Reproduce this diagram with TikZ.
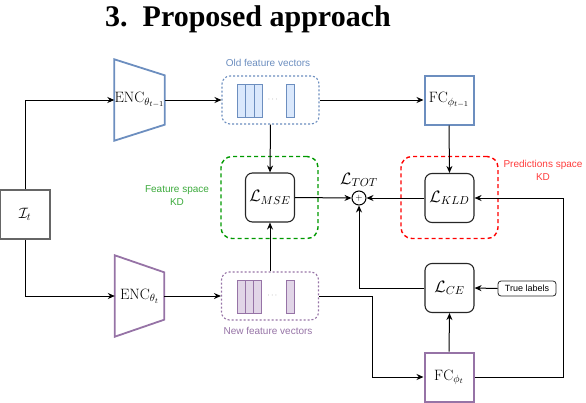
\RequirePackage{fix-cm}
\documentclass[tikz,border=0pt]{standalone}
\usepackage{amsmath}
\usepackage{fontspec}
\setsansfont{Liberation Sans}
\newfontfamily\titlefont{Liberation Serif}
\usetikzlibrary{arrows.meta,calc}

\definecolor{oldline}{HTML}{6C8EBF}
\definecolor{oldfill}{HTML}{DAE8FC}
\definecolor{newline}{HTML}{9673A6}
\definecolor{newfill}{HTML}{E1D5E7}
\definecolor{kdgreen}{RGB}{0,153,0}
\definecolor{kdgreentxt}{RGB}{60,170,60}
\definecolor{kdred}{RGB}{255,0,0}
\definecolor{kdredtxt}{RGB}{255,60,60}

\begin{document}
\begin{tikzpicture}[x=1pt,y=-1pt,
	>={Stealth[length=7pt,width=6pt]},
	arr/.style={->,line width=1pt,draw=black},
	con/.style={line width=1pt,draw=black},
	mathfont/.style={font=\fontsize{15}{17}\selectfont},
	lossfont/.style={font=\fontsize{16.5}{18}\selectfont},
	encbox/.style={mathfont,minimum width=49pt,minimum height=81pt,inner sep=0pt},
	fcbox/.style={draw,mathfont,line width=2pt,minimum width=49pt,minimum height=49pt,inner sep=0pt},
	lossbox/.style={draw=black!85,lossfont,line width=1.1pt,rounded corners=7pt,minimum width=49pt,minimum height=49pt,inner sep=0pt},
	fvbox/.style={line width=1.1pt,dash pattern=on 2pt off 2pt,rounded corners=8pt,minimum width=97pt,minimum height=48pt},
	kdbox/.style={line width=1.4pt,dash pattern=on 4pt off 3pt,rounded corners=11pt,minimum width=97pt,minimum height=82pt},
	smalltxt/.style={font=\sffamily\fontsize{10}{12.5}\selectfont,align=center}]
	\useasboundingbox (0,0) rectangle (586,402);
	\node[anchor=base,font=\titlefont\bfseries\fontsize{30}{34}\selectfont] (title) at (248,26) {3.\ \ Proposed approach};
	% input
	\node[draw=black!60,line width=1.5pt,mathfont,minimum width=50pt,minimum height=49pt,inner sep=0pt] (it) at (25,214.5) {$\mathcal{I}_t$};
	% encoders
	\node[encbox] (encold) at (139.5,100) {$\mathrm{ENC}_{\theta_{t-1}}$};
	\node[encbox] (encnew) at (139.5,296) {$\mathrm{ENC}_{\theta_t}$};
	\draw[oldline,line width=1.8pt] (encold.north west) -- ($(encold.north east)+(0,16)$) -- ($(encold.south east)+(0,-16)$) -- (encold.south west) -- cycle;
	\draw[newline,line width=1.8pt] (encnew.north west) -- ($(encnew.north east)+(0,17)$) -- ($(encnew.south east)+(0,-17)$) -- (encnew.south west) -- cycle;
	% feature vectors
	\node[fvbox,draw=oldline] (oldfv) at (270.5,100) {};
	\node[fvbox,draw=newline] (newfv) at (270,296) {};
	\node[smalltxt,text=oldline] (oldtxt) at (268,63) {Old feature vectors};
	\node[smalltxt,text=newline] (newtxt) at (268,331) {New feature vectors};
	\foreach \fv/\ln/\fl in {oldfv/oldline/oldfill, newfv/newline/newfill} {
		\foreach \dx in {-33,-24.7,-16.4,16}
			\draw[draw=\ln,fill=\fl,line width=1pt] ($(\fv.center)+(\dx,-16)$) rectangle ++(8.3,33);
		\node[text=black!50,font=\footnotesize] at ($(\fv.center)+(3,0)$) {$\cdots$};
	}
	% classifiers
	\node[fcbox,draw=oldline] (fcold) at (449,100) {$\mathrm{FC}_{\phi_{t-1}}$};
	\node[fcbox,draw=newline] (fcnew) at (449,377) {$\mathrm{FC}_{\phi_t}$};
	% distillation regions
	\node[kdbox,draw=kdgreen] (kdfeat) at (269.5,197.5) {};
	\node[kdbox,draw=kdred] (kdpred) at (449.5,197.5) {};
	\node[smalltxt,text=kdgreentxt] (kdfeattxt) at (177,195.5) {Feature space\\KD};
	\node[smalltxt,text=kdredtxt] (kdpredtxt) at (543,170.5) {Predictions space\\KD};
	% losses
	\node[lossbox] (mse) at (270,197.5) {$\mathcal{L}_{MSE}$};
	\node[lossbox] (kld) at (449.5,198) {$\mathcal{L}_{KLD}$};
	\node[lossbox] (ce) at (449.5,288) {$\mathcal{L}_{CE}$};
	\node[draw=black,line width=1pt,circle,minimum size=14pt,inner sep=0pt,font=\small] (sum) at (359,198) {$+$};
	\node[lossfont] (tot) at (359,180) {$\mathcal{L}_{TOT}$};
	\node[draw=black!85,line width=0.8pt,rounded corners=3pt,minimum width=58pt,minimum height=15pt,inner sep=1pt,font=\sffamily\fontsize{9}{10}\selectfont] (truel) at (527,288.5) {True labels};
	\coordinate (rloop) at (563,198);
	\coordinate (nbend) at (372,296);
	% connections
	\draw[arr] (it.north) |- (encold.west);
	\draw[arr] (it.south) |- (encnew.west);
	\draw[arr] (encold.east) -- (oldfv.west);
	\draw[arr] (encnew.east) -- (newfv.west);
	\draw[arr] (oldfv.east) -- (fcold.west);
	\draw[arr] (oldfv.south) -- (mse.north);
	\draw[arr] (newfv.north) -- (mse.south);
	\draw[arr] (fcold.south) -- (kld.north);
	\draw[arr] (mse.east) -- (sum.west);
	\draw[arr] (kld.west) -- (sum.east);
	\draw[arr] (ce.west) -| (sum.south);
	\draw[arr] (truel.west) -- (ce.east);
	\draw[arr] (fcnew.north) -- (ce.south);
	\draw[con] (newfv.east) -- (nbend);
	\draw[arr] (nbend) |- (fcnew.west);
	\draw[con] (fcnew.east) -| (rloop);
	\draw[arr] (rloop) -- (kld.east);
\end{tikzpicture}
\end{document}
